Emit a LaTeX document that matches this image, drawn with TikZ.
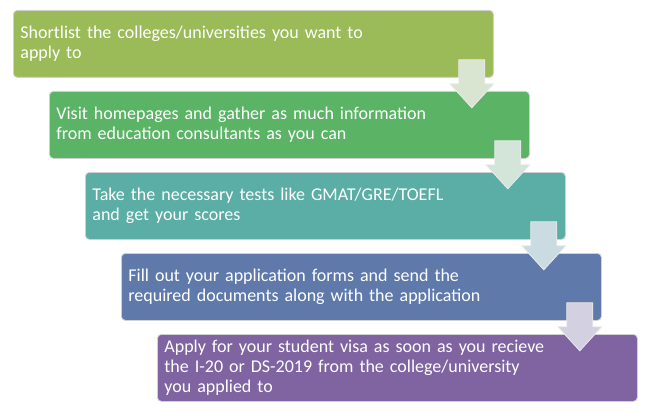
\documentclass[tikz,border=0pt]{standalone}
\usepackage{fontspec}
\setmainfont{Carlito}
\usetikzlibrary{calc}

\definecolor{stepA}{HTML}{9BBB59}
\definecolor{stepB}{HTML}{5BB366}
\definecolor{stepC}{HTML}{5AAEA5}
\definecolor{stepD}{HTML}{5F7AAA}
\definecolor{stepE}{HTML}{8064A2}
\definecolor{arrA}{HTML}{DAE5D1}
\definecolor{arrB}{HTML}{D2E5D8}
\definecolor{arrC}{HTML}{CADCE1}
\definecolor{arrD}{HTML}{D3D0E2}

\tikzset{pics/downarrow/.style={code={
  \draw[arrow line, fill=#1] (-13,0) -- (13,0) -- (13,24) -- (22,24) -- (0,48) -- (-22,24) -- (-13,24) -- cycle;
}}}

\begin{document}
\begin{tikzpicture}[x=1pt, y=-1pt, stepbox/.style={draw=black!18, line width=0.8pt, rounded corners=4pt, anchor=north west, minimum width=480pt, minimum height=67pt, text width=466pt, inner xsep=7pt, align=left, text=white, font=\fontsize{18}{20}\selectfont}, arrow line/.style={draw=white!92!black, line width=0.8pt}]

\useasboundingbox (0,0) rectangle (646,412);

\node[stepbox, fill=stepA](s1) at (13,10) {Shortlist the colleges/universities you want to\\apply to};
\node[stepbox, fill=stepB](s2) at (49,91) {Visit homepages and gather as much information\\from education consultants as you can};
\node[stepbox, fill=stepC](s3) at (85,172) {Take the necessary tests like GMAT/GRE/TOEFL\\and get your scores};
\node[stepbox, fill=stepD](s4) at (121,253) {Fill out your application forms and send the\\required documents along with the application};
\node[stepbox, fill=stepE](s5) at (157,334) {Apply for your student visa as soon as you recieve\\the I-20 or DS-2019 from the college/university\\you applied to};

\pic at ($(s1.south east)+(-22,-18)$) {downarrow=arrA};
\pic at ($(s2.south east)+(-22,-18)$) {downarrow=arrB};
\pic at ($(s3.south east)+(-22,-18)$) {downarrow=arrC};
\pic at ($(s4.south east)+(-22,-18)$) {downarrow=arrD};

\end{tikzpicture}
\end{document}
